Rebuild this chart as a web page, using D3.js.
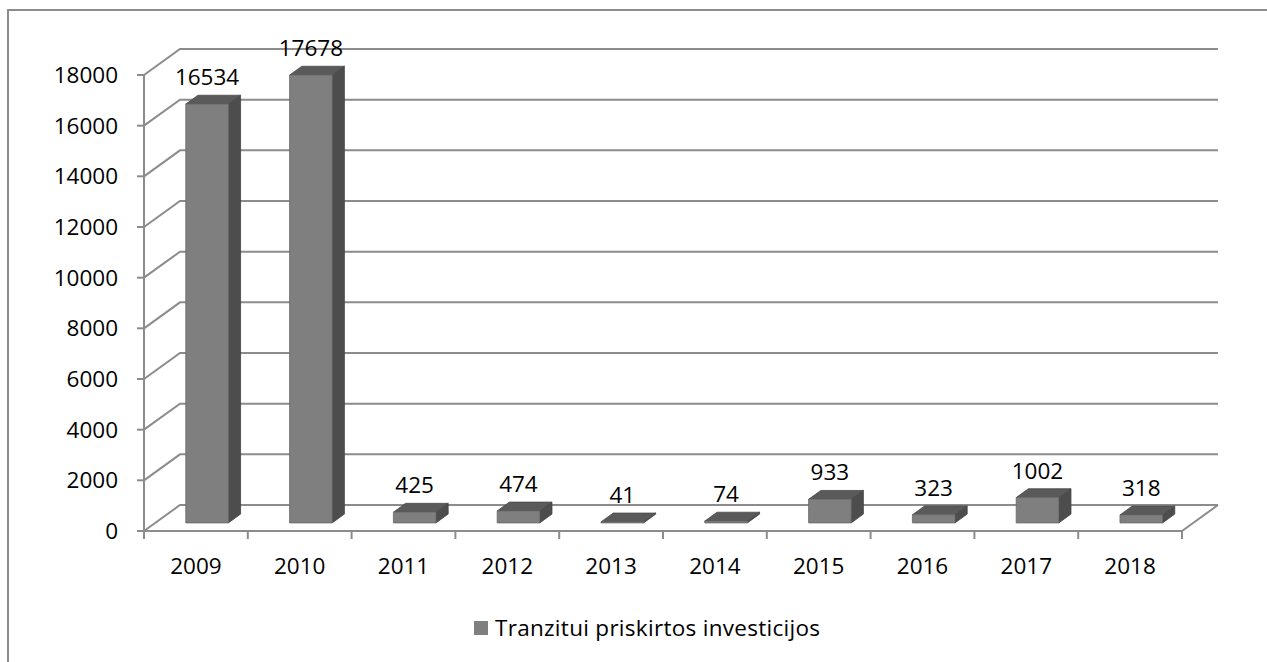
<!DOCTYPE html>
<html>
<head>
<meta charset="utf-8">
<script src="https://cdn.jsdelivr.net/npm/d3@7"></script>
<style>
  body { margin: 0; background: #fff; }
  svg text { font-family: "Open Sans", Lato, sans-serif; fill: #000; }
</style>
</head>
<body>
<div id="main"></div>
<script>
// chart data
const years = ["2009", "2010", "2011", "2012", "2013", "2014", "2015", "2016", "2017", "2018"];
const investicijos = [16534, 17678, 425, 474, 41, 74, 933, 323, 1002, 318];
const yTicks = [0, 2000, 4000, 6000, 8000, 10000, 12000, 14000, 16000, 18000];
const seriesName = "Tranzitui priskirtos investicijos";

const W = 1267, H = 662;
const depthX = 36, depthY = -26;   // offset from the front floor edge to the back wall
const gridCol = "#8c8c8c";
const fs = 22.5;

const svg = d3.select('#main')
    .append('svg')
    .attr('width', W)
    .attr('height', H);

// outer chart frame (runs off the right and bottom of the picture)
svg.append('rect')
    .attr('x', 8).attr('y', 10)
    .attr('width', 1300).attr('height', 700)
    .attr('fill', 'none')
    .attr('stroke', gridCol)
    .attr('stroke-width', 2);

const x = d3.scaleBand().domain(years).range([144, 1182]);
const y = d3.scaleLinear().domain([0, 18000]).range([531, 75]);

// point projected back by depth d (0 = front edge, 1 = back wall)
const P = (px, py, d) => [px + d * depthX, py + d * depthY];

// gridlines: diagonal on left wall + horizontal on back wall
const grid = svg.append('g')
    .attr('fill', 'none')
    .attr('stroke', gridCol)
    .attr('stroke-width', 2);
yTicks.forEach(v => {
    grid.append('path')
        .attr('d', d3.line()([P(x.range()[0], y(v), 0), P(x.range()[0], y(v), 1), P(x.range()[1], y(v), 1)]));
});
// right floor edge
grid.append('path')
    .attr('d', d3.line()([P(x.range()[1], y(0), 0), P(x.range()[1], y(0), 1)]));
// front axes
grid.append('path')
    .attr('d', d3.line()([[x.range()[0], y(18000)], [x.range()[0], y(0)], [x.range()[1], y(0)]]));
// y ticks
yTicks.forEach(v => {
    grid.append('path').attr('d', d3.line()([[x.range()[0] - 7, y(v)], [x.range()[0], y(v)]]));
});
// x ticks
years.concat(["end"]).forEach((c, i) => {
    const xx = x.range()[0] + i * x.step();
    grid.append('path').attr('d', d3.line()([[xx, y(0)], [xx, y(0) + 8]]));
});

// y labels
svg.append('g').selectAll('text')
    .data(yTicks).join('text')
    .attr('x', 118)
    .attr('y', d => y(d) + 8)
    .attr('text-anchor', 'end')
    .attr('font-size', fs)
    .text(d => d);

// x labels
svg.append('g').selectAll('text')
    .data(years).join('text')
    .attr('x', d => x(d) + x.bandwidth() / 2)
    .attr('y', 574)
    .attr('text-anchor', 'middle')
    .attr('font-size', fs)
    .text(d => d);

// 3D bars
const barW = x.step() * 0.41;
const dFront = 0.31, dBack = 0.65;
const bars = svg.append('g');
years.forEach((c, i) => {
    const v = investicijos[i];
    const cx = x(c) + x.bandwidth() / 2;
    const xl = cx - barW / 2, xr = cx + barW / 2;
    const yb = y(0), yt = y(v);
    const fl = P(xl, yt, dFront), fr = P(xr, yt, dFront);
    const frb = P(xr, yb, dFront), flb = P(xl, yb, dFront);
    const bl = P(xl, yt, dBack), br = P(xr, yt, dBack), brb = P(xr, yb, dBack);
    // side
    bars.append('path')
        .attr('d', d3.line()([fr, br, brb, frb]) + 'Z')
        .attr('fill', '#4d4d4d').attr('stroke', '#444').attr('stroke-width', 0.8);
    // top
    bars.append('path')
        .attr('d', d3.line()([fl, bl, br, fr]) + 'Z')
        .attr('fill', '#5a5a5a').attr('stroke', '#4a4a4a').attr('stroke-width', 0.8);
    // front
    bars.append('path')
        .attr('d', d3.line()([fl, fr, frb, flb]) + 'Z')
        .attr('fill', '#7f7f7f').attr('stroke', '#6a6a6a').attr('stroke-width', 0.8);
    // value label
    svg.append('text')
        .attr('x', fl[0] + barW / 2)
        .attr('y', bl[1] - 10)
        .attr('text-anchor', 'middle')
        .attr('font-size', fs)
        .text(v);
});

// legend
const lg = svg.append('g');
lg.append('rect')
    .attr('x', 474).attr('y', 621)
    .attr('width', 14).attr('height', 14)
    .attr('fill', '#7f7f7f');
lg.append('text')
    .attr('x', 495).attr('y', 636)
    .attr('font-size', fs)
    .attr('textLength', 325)
    .text(seriesName);
</script>
</body>
</html>
